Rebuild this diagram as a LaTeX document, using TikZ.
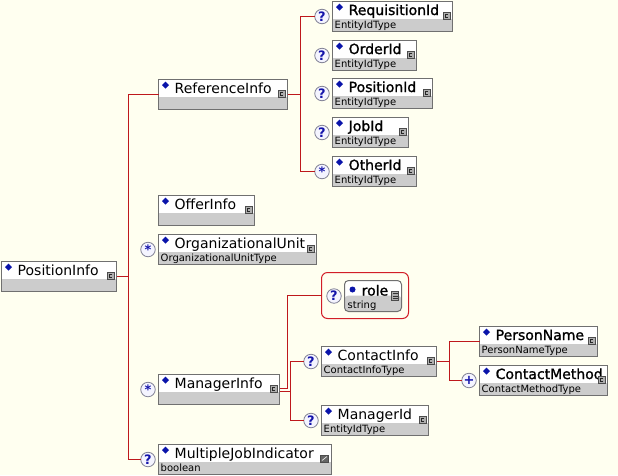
\documentclass[tikz,border=0pt]{standalone}
\usepackage{fontspec}
\setmainfont{DejaVu Sans}
\newfontfamily\namebfam{DejaVu Sans}[FakeBold=1.3]
\usetikzlibrary{calc}
\definecolor{bgcol}{RGB}{255,255,240}
\definecolor{boxline}{RGB}{112,112,112}
\definecolor{typefill}{RGB}{204,204,204}
\definecolor{conncol}{RGB}{190,24,28}
\definecolor{framecol}{RGB}{210,30,40}
\definecolor{dmdblue}{RGB}{10,20,170}
\definecolor{occfill}{RGB}{244,244,255}
\definecolor{occline}{RGB}{130,130,150}
\definecolor{occtext}{RGB}{20,20,170}
\definecolor{icofill}{RGB}{175,175,175}
\newcommand\elnfont{\fontsize{14}{16}\selectfont}
\newcommand\elbfont{\namebfam\fontsize{14}{16}\selectfont}
\newcommand\occstar{\raisebox{-4pt}{*}}
\tikzset{
  elem/.style={draw=boxline, line width=1pt, fill=white, anchor=north west, inner sep=0pt,
    outer sep=0pt, minimum height=30,
    path picture={\fill[typefill] (path picture bounding box.south west)
      rectangle ([yshift=13pt]path picture bounding box.south east);}},
  attbox/.style={elem, rounded corners=4pt, minimum height=31,
    path picture={\fill[typefill] (path picture bounding box.south west)
      rectangle ([yshift=16pt]path picture bounding box.south east);}},
  roleframe/.style={draw=framecol, line width=1pt, rounded corners=6pt, anchor=north west,
    inner sep=0pt, outer sep=0pt, minimum width=87, minimum height=46},
  elname/.style={anchor=base west, inner sep=0pt},
  eltype/.style={anchor=base west, inner sep=0pt, font=\fontsize{10}{12}\selectfont},
  occ/.style={circle, draw=occline, line width=0.8pt, fill=occfill, minimum size=14.5,
    inner sep=0pt, outer sep=0pt, text=occtext, font=\fontsize{13}{13}\selectfont\bfseries},
  conn/.style={draw=conncol, line width=1pt},
  cticon/.style={draw=black!70, fill=icofill, line width=0.6pt},
}
\begin{document}
\begin{tikzpicture}[x=1pt,y=-1pt]
  \fill[bgcol] (0,0) rectangle (618,475);
  \useasboundingbox (0,0) rectangle (618,475);
  \begin{scope}[shift={(0.5,0.5)}]
  % element boxes
  \foreach \x/\y/\w/\lab/\typ/\fnt/\ico in {
    1/261/115/PositionInfo//\elnfont/c,
    158/79/129/ReferenceInfo//\elnfont/c,
    332/1/120/RequisitionId/EntityIdType/\elbfont/c,
    332/40/84/OrderId/EntityIdType/\elbfont/c,
    332/78/100/PositionId/EntityIdType/\elbfont/c,
    332/117/76/JobId/EntityIdType/\elbfont/c,
    332/156/84/OtherId/EntityIdType/\elbfont/c,
    158/195/96/OfferInfo//\elnfont/c,
    158/234/158/OrganizationalUnit/OrganizationalUnitType/\elnfont/c,
    158/374/121/ManagerInfo//\elnfont/c,
    158/444/173/MultipleJobIndicator/boolean/\elnfont/s,
    321/346/115/ContactInfo/ContactInfoType/\elnfont/c,
    321/405/107/ManagerId/EntityIdType/\elnfont/c,
    479/326/118/PersonName/PersonNameType/\elbfont/c,
    479/365/128/ContactMethod/ContactMethodType/\elbfont/c%
  } {
    \node[elem, minimum width=\w] (\lab) at (\x,\y) {};
    \fill[dmdblue] ($(\lab.north west)+(7,2)$) -- ++(3.5,3.5) -- ++(-3.5,3.5) -- ++(-3.5,-3.5) -- cycle;
    \node[elname, font=\fnt] (\lab-n) at ($(\lab.north west)+(16,13.5)$) {\lab};
    \node[eltype] (\lab-t) at ($(\lab.north west)+(2,27)$) {\typ};
    \if c\ico
      \draw[cticon] ($(\lab.north east)+(-9.5,10.5)$) rectangle ++(7,7);
      \draw[black!85, line width=0.6pt] ($(\lab.north east)+(-4.5,12.5)$) -- ++(-2.5,0) -- ++(0,3) -- ++(2.5,0);
    \else
      \draw[cticon, fill=black!60] ($(\lab.north east)+(-11,10.5)$) rectangle ++(8,7);
      \draw[white, line width=0.6pt] ($(\lab.north east)+(-9.5,16)$) -- ++(5,-4);
    \fi
  }
  % attribute role
  \node[roleframe] (roleframe) at (321,272) {};
  \node[attbox, minimum width=57] (role) at (344,280) {};
  \fill[dmdblue] ($(role.north west)+(8,9)$) circle (3);
  \node[elname, font=\elbfont] (role-n) at ($(role.north west)+(17,15)$) {role};
  \node[eltype] (role-t) at ($(role.north west)+(3,28)$) {string};
  \draw[cticon] ($(role.north east)+(-10,11)$) rectangle ++(7,9);
  \foreach \d in {13,15.5,18}
    \draw[black!80, line width=0.8pt] ($(role.north east)+(-9,\d)$) -- ++(5,0);
  % occurrence marks
  \foreach \lab/\sym in {
    RequisitionId/?, OrderId/?, PositionId/?, JobId/?, OtherId/\occstar,
    OrganizationalUnit/\occstar, ManagerInfo/\occstar, MultipleJobIndicator/?,
    ContactInfo/?, ManagerId/?, ContactMethod/+, role/?%
  } {
    \node[occ] (\lab-o) at ($(\lab.west)+(-10.5,0)$) {\sym};
  }
  % connectors
  \coordinate (trkA) at ($(PositionInfo.east)+(12,0)$);
  \coordinate (trkB) at ($(ReferenceInfo.east)+(13,0)$);
  \coordinate (trkC) at ($(ManagerInfo.east)+(11,1.5)$);
  \coordinate (trkD) at ($(ContactInfo.east)+(13,0)$);
  \draw[conn] (PositionInfo.east) -- (trkA);
  \draw[conn] (ReferenceInfo.west) -| (trkA) |- (MultipleJobIndicator-o.west);
  \draw[conn] (ReferenceInfo.east) -- (trkB);
  \draw[conn] (RequisitionId-o.west) -| (trkB) |- (OtherId-o.west);
  \draw[conn] ([yshift=1.5pt]ManagerInfo.east) -- ++(8,0) |- (roleframe.west);
  \draw[conn] ([yshift=-1.5pt]ManagerInfo.east) -- (trkC);
  \draw[conn] (ContactInfo-o.west) -| (trkC) |- (ManagerId-o.west);
  \draw[conn] (ContactInfo.east) -- (trkD);
  \draw[conn] (PersonName.west) -| (trkD) |- (ContactMethod-o.west);
  \end{scope}
\end{tikzpicture}
\end{document}
